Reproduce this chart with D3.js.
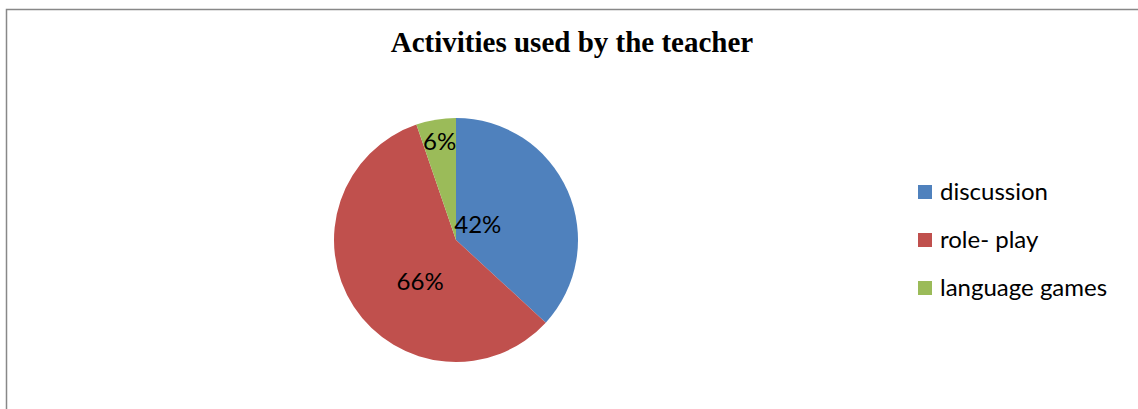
<!DOCTYPE html>
<html>
<head>
<meta charset="utf-8">
<script src="https://cdn.jsdelivr.net/npm/d3@7"></script>
<style>
  html, body { margin: 0; padding: 0; background: #fff; }
  svg { display: block; }
</style>
</head>
<body>
<svg id="chart" width="1138" height="409"></svg>
<script>
const categories = ["discussion", "role- play", "language games"];
const values = [42, 66, 6];
const labels = ["42%", "66%", "6%"];
const colors = ["#4F81BD", "#C0504D", "#9BBB59"];
const title = "Activities used by the teacher";

// label placement (fraction of radius, angle shift in degrees from slice middle)
const labelRadius = [0.22, 0.45, 0.82];
const labelShift = [-12, -16, 0];

const svg = d3.select("#chart");

svg.append("rect")
  .attr("x", 6.5).attr("y", 9.5)
  .attr("width", 1140).attr("height", 410)
  .attr("fill", "none").attr("stroke", "#888").attr("stroke-width", 1.5);

svg.append("text")
  .attr("x", 572).attr("y", 52)
  .attr("text-anchor", "middle")
  .attr("font-family", "Liberation Serif, Times New Roman, serif")
  .attr("font-weight", "bold")
  .attr("font-size", 29)
  .text(title);

const cx = 456, cy = 240, r = 122;
const pie = d3.pie().sort(null).value(d => d);
const arcs = pie(values);
const arc = d3.arc().innerRadius(0).outerRadius(r);

const g = svg.append("g").attr("transform", `translate(${cx},${cy})`);
g.selectAll("path").data(arcs).enter().append("path")
  .attr("d", arc)
  .attr("fill", (d, i) => colors[i]);

g.selectAll("text.lbl").data(arcs).enter().append("text")
  .attr("class", "lbl")
  .attr("transform", (d, i) => {
    const a = (d.startAngle + d.endAngle) / 2 + labelShift[i] * Math.PI / 180;
    const rr = r * labelRadius[i];
    return `translate(${rr * Math.sin(a)},${-rr * Math.cos(a)})`;
  })
  .attr("text-anchor", "middle")
  .attr("dy", "0.35em")
  .attr("font-family", "Lato, Open Sans, sans-serif")
  .attr("font-size", 24)
  .attr("fill", "#000")
  .text((d, i) => labels[i]);

const legend = svg.append("g");
const ly = d3.scalePoint().domain(categories).range([192, 288]);
categories.forEach((c, i) => {
  legend.append("rect")
    .attr("x", 918).attr("y", ly(c) - 7)
    .attr("width", 14).attr("height", 14)
    .attr("fill", colors[i]);
  legend.append("text")
    .attr("x", 940).attr("y", ly(c))
    .attr("dy", "0.35em")
    .attr("font-family", "Lato, Open Sans, sans-serif")
    .attr("font-size", 24)
    .attr("fill", "#000")
    .text(c);
});
</script>
</body>
</html>
